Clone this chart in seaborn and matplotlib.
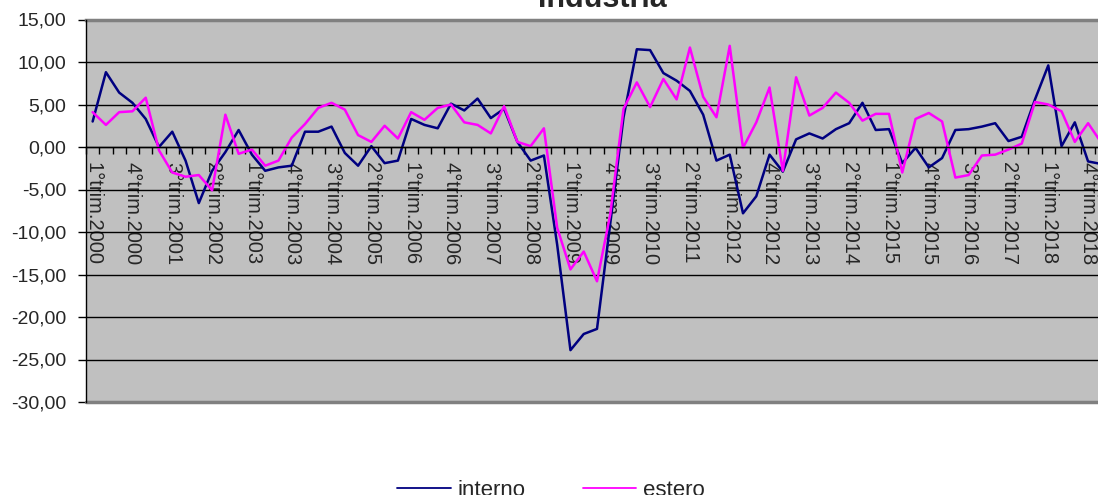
import pandas as pd
import matplotlib.pyplot as plt
import seaborn as sns
from matplotlib.lines import Line2D
from matplotlib.ticker import FixedLocator, FuncFormatter

# -----------------------------
# Data (variazioni %, trimestrali)
# -----------------------------
quarters = [f"{q}°trim.{y}" for y in range(2000, 2020) for q in range(1, 5)][:77]

interno = [3.0, 8.8, 6.4, 5.2, 3.3, 0.0, 1.8, -1.6, -6.6, -2.8,
           -0.6, 2.0, -0.9, -2.8, -2.4, -2.2, 1.8, 1.8, 2.4, -0.7,
           -2.2, 0.1, -1.9, -1.6, 3.3, 2.6, 2.2, 5.1, 4.3, 5.7,
           3.4, 4.5, 0.6, -1.6, -1.0, -11.5, -23.9, -22.0, -21.4, -9.0,
           3.5, 11.5, 11.4, 8.7, 7.8, 6.6, 3.8, -1.6, -0.9, -7.8,
           -5.8, -0.9, -2.9, 0.9, 1.6, 1.0, 2.1, 2.8, 5.2, 2.0,
           2.1, -1.9, -0.1, -2.4, -1.3, 2.0, 2.1, 2.4, 2.8, 0.7,
           1.2, 5.6, 9.6, 0.1, 2.9, -1.7, -2.0]

estero = [4.1, 2.6, 4.1, 4.2, 5.8, -0.4, -3.0, -3.5, -3.3, -5.1,
          3.8, -0.8, -0.3, -2.2, -1.6, 1.1, 2.7, 4.6, 5.2, 4.4,
          1.4, 0.6, 2.5, 1.0, 4.1, 3.2, 4.6, 5.0, 2.9, 2.6,
          1.6, 4.8, 0.6, 0.1, 2.2, -9.5, -14.4, -12.3, -15.8, -7.9,
          4.5, 7.6, 4.7, 8.0, 5.6, 11.7, 5.9, 3.5, 11.9, -0.1,
          2.9, 7.0, -2.8, 8.2, 3.7, 4.6, 6.4, 5.2, 3.1, 3.9,
          3.9, -3.0, 3.3, 4.0, 3.0, -3.6, -3.3, -1.0, -0.9, -0.3,
          0.4, 5.3, 5.0, 4.2, 0.6, 2.8, 0.5]

series_names = ["interno", "estero"]
colors = {"interno": "#000080", "estero": "#FF00FF"}

# -----------------------------
# Plot
# -----------------------------
def build_frame():
    rows = []
    for name, vals in zip(series_names, [interno, estero]):
        for i, v in enumerate(vals):
            rows.append({"pos": i, "trimestre": quarters[i], "serie": name, "valore": v})
    return pd.DataFrame(rows)


def main():
    df = build_frame()

    sns.set_style("white", {"axes.facecolor": "#C0C0C0"})
    plt.rcParams["font.family"] = ["Liberation Sans", "DejaVu Sans"]

    fig = plt.figure(figsize=(10.98, 4.95), dpi=100)
    ax = fig.add_axes([86 / 1098, 93 / 495, 1022 / 1098, 382.5 / 495])

    sns.lineplot(data=df, x="pos", y="valore", hue="serie", palette=colors,
                 hue_order=series_names, linewidth=1.8, legend=False, ax=ax)

    ax.set_xlim(-0.5, 76.5)
    ax.set_ylim(-30, 15)
    ax.set_xlabel("")
    ax.set_ylabel("")

    # y axis
    ax.set_yticks(range(-30, 16, 5))
    ax.yaxis.set_major_formatter(FuncFormatter(lambda v, p: f"{v:.2f}".replace(".", ",")))
    ax.tick_params(axis="y", length=6, width=1, color="black", pad=8,
                   labelsize=14, left=True)
    ax.grid(axis="y", color="black", linewidth=1)
    ax.set_axisbelow(True)

    # x axis crossing at zero, labels every third quarter
    label_pos = list(range(0, 76, 3))
    ax.xaxis.set_major_locator(FixedLocator(label_pos))
    ax.xaxis.set_major_formatter(FuncFormatter(lambda v, p: quarters[int(round(v))]))
    ax.xaxis.set_minor_locator(FixedLocator([i + 0.5 for i in range(-1, 77)]))
    ax.tick_params(axis="x", which="major", length=0, pad=11, labelsize=14.5,
                   labelrotation=270, bottom=True)
    ax.tick_params(axis="x", which="minor", length=5, width=1, color="black",
                   direction="out", bottom=True)

    ax.spines["bottom"].set_position(("data", 0))
    ax.spines["bottom"].set_color("black")
    ax.spines["bottom"].set_linewidth(1)
    ax.spines["left"].set_color("black")
    ax.spines["left"].set_linewidth(1)
    ax.spines["left"].set_zorder(4)
    ax.spines["top"].set_color("#808080")
    ax.spines["top"].set_linewidth(2.5)
    ax.spines["right"].set_visible(False)
    ax.axhline(-30, color="#808080", linewidth=2.5, zorder=3, clip_on=False)

    # title (cut by the top edge)
    fig.text(602 / 1098, 1 - 7 / 495, "Industria", ha="center", va="baseline",
             fontsize=22, fontweight="bold")

    # legend
    handles = [Line2D([], [], color=colors[n], linewidth=1.3) for n in series_names]
    fig.legend(handles, series_names, loc="center", bbox_to_anchor=(551 / 1098, 1 - 490 / 495),
               ncol=2, frameon=False, fontsize=16, handlelength=2.4,
               handletextpad=0.3, columnspacing=2.6)

    fig.savefig("out.png", dpi=100)


if __name__ == "__main__":
    main()
